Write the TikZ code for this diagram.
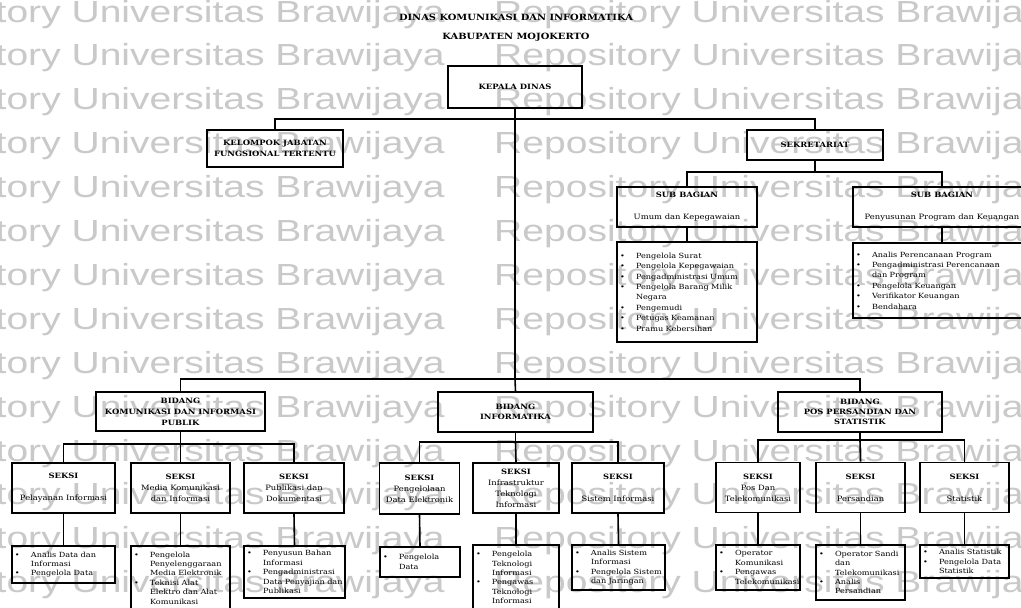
\documentclass[tikz,border=0pt]{standalone}
\usepackage{fontspec}
\setmainfont{DejaVu Serif}[FakeStretch=1.15]
\newfontfamily\wmfont{Liberation Sans}[FakeStretch=1.28]
\definecolor{wmgray}{gray}{0.79}
\newcommand\bi[1]{\mbox{\makebox[16pt][l]{\textbullet}#1}}
\newcommand\ci[1]{\mbox{\hspace*{16pt}#1}}
\tikzset{
  wm/.style={anchor=base west, inner sep=0pt, text=wmgray, font=\wmfont\fontsize{30.5}{30}\selectfont},
  box/.style={draw, line width=1.6pt, inner sep=0pt, align=center, font=\fontsize{7.3}{11}\selectfont},
  lst/.style={draw, line width=1.6pt, inner xsep=3pt, inner ysep=0pt, align=left, font=\fontsize{7.1}{9.4}\selectfont},
  lstb/.style={lst, font=\fontsize{7.1}{10.4}\selectfont},
  conn/.style={line width=1.6pt},
  ttl/.style={inner sep=0pt, font=\bfseries\fontsize{8.6}{10}\selectfont}
}
\begin{document}
\begin{tikzpicture}[x=1pt,y=-1pt]
\useasboundingbox (0,0) rectangle (1021,608);
\clip (0,0) rectangle (1021,608);
\fill[white] (0,0) rectangle (1021,608);
% watermark
\foreach \i in {0,...,13} {
  \node[wm] (wma\i) at (-126, 22+43.9*\i) {Repository Universitas Brawijaya};
  \node[wm] (wmb\i) at (494, 22+43.9*\i) {Repository Universitas Brawijaya};
}
% titles
\node[ttl] (t1) at (516,17) {DINAS KOMUNIKASI DAN INFORMATIKA};
\node[ttl] (t2) at (516,37) {KABUPATEN MOJOKERTO};
% top level
\node[box, minimum width=134pt, minimum height=42pt] (kep) at (515,87) {\textbf{KEPALA DINAS}};
\node[box, minimum width=136pt, minimum height=37pt] (kel) at (275,148.5) {\textbf{KELOMPOK JABATAN}\\\textbf{FUNGSIONAL TERTENTU}};
\node[box, minimum width=136pt, minimum height=30pt] (sek) at (815,145) {\textbf{SEKRETARIAT}};
\node[box, minimum width=140pt, minimum height=40pt] (sub1) at (687,207) {\textbf{SUB BAGIAN}\\[11pt]Umum dan Kepegawaian};
\node[box, minimum width=178pt, minimum height=40pt] (sub2) at (942,207) {\textbf{SUB BAGIAN}\\[11pt]Penyusunan Program dan Keuangan};
\node[lstb, minimum height=100pt, text width=134pt] (ls1) at (687,292) {\bi{Pengelola Surat}\\\bi{Pengelola Kepegawaian}\\\bi{Pengadministrasi Umum}\\\bi{Pengelola Barang Milik}\\\ci{Negara}\\\bi{Pengemudi}\\\bi{Petugas Keamanan}\\\bi{Pramu Kebersihan}};
\node[lstb, minimum height=75pt, text width=172pt] (ls2) at (942,280.5) {\bi{Analis Perencanaan Program}\\\bi{Pengadministrasi Perencanaan}\\\ci{dan Program}\\\bi{Pengelola Keuangan}\\\bi{Verifikator Keuangan}\\\bi{Bendahara}};
% bidang
\node[box, minimum width=169pt, minimum height=39pt] (b1) at (180.5,411.5) {\textbf{BIDANG}\\\textbf{KOMUNIKASI DAN INFORMASI}\\\textbf{PUBLIK}};
\node[box, minimum width=155pt, minimum height=40pt] (b2) at (515.5,412) {\textbf{BIDANG}\\[-1pt]\textbf{INFORMATIKA}};
\node[box, minimum width=164pt, minimum height=40pt] (b3) at (860,412) {\textbf{BIDANG}\\[-1pt]\textbf{POS PERSANDIAN DAN}\\[-1pt]\textbf{STATISTIK}};
% seksi
\node[box, minimum width=103pt, minimum height=50pt] (s1) at (63.5,488) {\textbf{SEKSI}\\[11pt]Pelayanan Informasi};
\node[box, minimum width=99pt, minimum height=50pt] (s2) at (180.5,488) {\textbf{SEKSI}\\Media Komunikasi\\dan Informasi};
\node[box, minimum width=100pt, minimum height=50pt] (s3) at (294,488) {\textbf{SEKSI}\\Publikasi dan\\Dokumentasi};
\node[box, minimum width=80pt, minimum height=51pt] (s4) at (419.5,488.5) {\textbf{SEKSI}\\Pengelolaan\\Data Elektronik};
\node[box, minimum width=86pt, minimum height=50pt] (s5) at (516,488) {\textbf{SEKSI}\\Infrastruktur\\Teknologi\\Informasi};
\node[box, minimum width=92pt, minimum height=50pt] (s6) at (618,488) {\textbf{SEKSI}\\[11pt]Sistem Informasi};
\node[box, minimum width=84pt, minimum height=50pt] (s7) at (758,487.5) {\textbf{SEKSI}\\Pos Dan\\Telekomunikasi};
\node[box, minimum width=89pt, minimum height=50pt] (s8) at (860.5,487.5) {\textbf{SEKSI}\\[11pt]Persandian};
\node[box, minimum width=89pt, minimum height=50pt] (s9) at (964.5,487.5) {\textbf{SEKSI}\\[11pt]Statistik};
% lists
\node[lst, minimum height=37pt, text width=97pt] (l1) at (63.5,564.5) {\bi{Analis Data dan}\\\ci{Informasi}\\\bi{Pengelola Data}};
\node[lst, minimum height=64pt, text width=93pt] (l2) at (180.5,578) {\bi{Pengelola}\\\ci{Penyelenggaraan}\\\ci{Media Elektronik}\\\bi{Teknisi Alat}\\\ci{Elektro dan Alat}\\\ci{Komunikasi}};
\node[lst, minimum height=52pt, text width=95pt] (l3) at (294.5,572) {\bi{Penyusun Bahan}\\\ci{Informasi}\\\bi{Pengadministrasi}\\\ci{Data Penyajian dan}\\\ci{Publikasi}};
\node[lst, minimum height=30pt, text width=74pt] (l4) at (420,562) {\bi{Pengelola}\\\ci{Data}};
\node[lst, minimum height=65pt, text width=80pt] (l5) at (516,577.5) {\bi{Pengelola}\\\ci{Teknologi}\\\ci{Informasi}\\\bi{Pengawas}\\\ci{Teknologi}\\\ci{Informasi}};
\node[lst, minimum height=45pt, text width=87pt] (l6) at (618.5,567.5) {\bi{Analis Sistem}\\\ci{Informasi}\\\bi{Pengelola Sistem}\\\ci{dan Jaringan}};
\node[lst, minimum height=45pt, text width=78pt] (l7) at (758,567.5) {\bi{Operator}\\\ci{Komunikasi}\\\bi{Pengawas}\\\ci{Telekomunikasi}};
\node[lst, minimum height=55pt, text width=83pt] (l8) at (860.5,572.5) {\bi{Operator Sandi}\\\ci{dan}\\\ci{Telekomunikasi}\\\bi{Analis}\\\ci{Persandian}};
\node[lst, minimum height=33pt, text width=83pt] (l9) at (964.5,561.5) {\bi{Analis Statistik}\\\bi{Pengelola Data}\\\ci{Statistik}};
% junctions
\coordinate (j1) at (515,119);
\coordinate (j2) at (515,379);
\coordinate (j3) at (815,172);
\coordinate (j4) at (180.5,444);
\coordinate (j5) at (515.5,442);
\coordinate (j6) at (860,440);
% connectors
\draw[conn] (kep.south) -- (j2);
\draw[conn] (kel.north) |- (j1) -| (sek.north);
\draw[conn] (sek.south) -- (j3);
\draw[conn] (sub1.north) |- (j3) -| (sub2.north);
\draw[conn] (sub1.south) -- (ls1.north);
\draw[conn] (sub2.south) -- (ls2.north);
\draw[conn] (b1.north) |- (j2) -| (b3.north);
\draw[conn] (j2) -- (b2.north);
\draw[conn] (b1.south) -- (j4);
\draw[conn] (s1.north) |- (j4) -| (s3.north);
\draw[conn] (j4) -- (s2.north);
\draw[conn] (b2.south) -- (j5);
\draw[conn] (s4.north) |- (j5) -| (s6.north);
\draw[conn] (j5) -- (s5.north);
\draw[conn] (b3.south) -- (j6);
\draw[conn] (s7.north) |- (j6) -| (s9.north);
\draw[conn] (j6) -- (s8.north);
\foreach \a/\b in {s1/l1,s2/l2,s3/l3,s4/l4,s5/l5,s6/l6,s7/l7,s8/l8,s9/l9}
  \draw[conn] (\a.south) -- (\b.north);
\end{tikzpicture}
\end{document}
